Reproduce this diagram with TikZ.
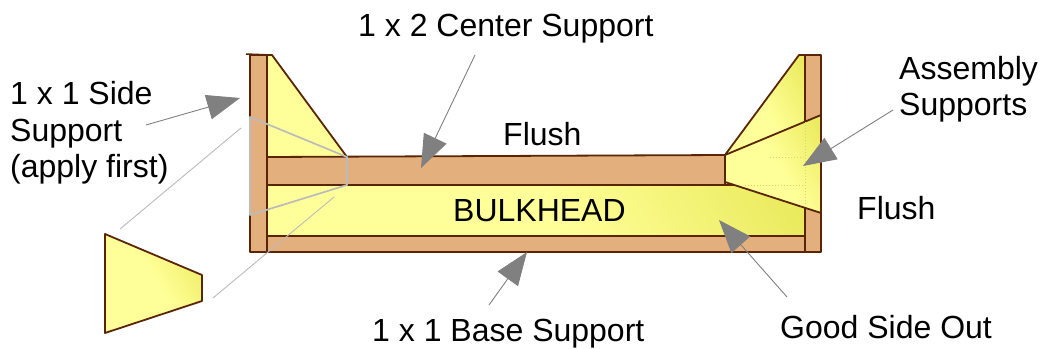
\documentclass[tikz,border=0pt]{standalone}
\usepackage{fontspec}
\setmainfont{Liberation Sans}
\usetikzlibrary{arrows.meta}
\definecolor{wood}{HTML}{E3B07D}
\definecolor{edge}{HTML}{5A2506}
\definecolor{paleY}{HTML}{FFFF99}
\definecolor{darkY}{HTML}{E3E34A}
\definecolor{pointer}{HTML}{808080}
\definecolor{guide}{HTML}{BBBBBB}
\definecolor{ghost}{HTML}{D8D860}
\pgfdeclarehorizontalshading{yellowfade}{100bp}{color(0bp)=(paleY); color(52bp)=(paleY); color(92bp)=(darkY); color(100bp)=(darkY)}
\tikzset{
  woodpart/.style={fill=wood,draw=edge,line width=1.8pt,line join=round},
  gusset/.style={fill=paleY,draw=edge,line width=1.8pt,line join=round},
  fadepart/.style={draw=edge,line width=1.8pt,line join=round,shading=yellowfade,shading angle=30},
  label/.style={font=\fontsize{32pt}{36.5pt}\selectfont,inner sep=0pt,align=left},
  pointerline/.style={draw=pointer,line width=0.9pt,-{Triangle[length=33pt,width=25pt,fill=pointer]}},
  guideline/.style={draw=guide,line width=0.9pt},
  ghostline/.style={draw=ghost,line width=1pt,dotted},
  outlinepart/.style={draw=guide,line width=1.7pt,line join=round}
}
\begin{document}
\begin{tikzpicture}[x=1pt,y=-1pt]
\useasboundingbox (0,0) rectangle (1040,348);
% bulkhead and right gusset
\path[fadepart] (267,185) -- (805,185) -- (805,236) -- (267,236) -- cycle;
\path[gusset] (267,55) -- (272,55) -- (347,157) -- (267,157) -- cycle;
\path[fadepart] (805,55) -- (799,55) -- (725,155) -- (725,182) -- (805,182) -- cycle;
% timber
\path[woodpart] (267,157) -- (725,155) -- (725,185) -- (267,185) -- cycle;
\path[woodpart] (267,236) -- (805,236) -- (805,252) -- (267,252) -- cycle;
\path[woodpart] (250,55) -- (267,55) -- (267,252) -- (250,252) -- cycle;
\path[woodpart] (805,55) -- (821,55) -- (821,252) -- (805,252) -- cycle;
\draw[edge,line width=1.5pt] (246,54) -- (272,55);
% assembly support on the right
\path[fadepart] (725,155) -- (821,115) -- (821,213) -- (725,182) -- cycle;
\coordinate (h1a) at (770,157); \coordinate (h1b) at (805,157);
\coordinate (h2a) at (745,185); \coordinate (h2b) at (805,185);
\coordinate (h3a) at (805,122); \coordinate (h3b) at (805,206);
\draw[ghostline] (h1a) -- (h1b);
\draw[ghostline] (h2a) -- (h2b);
\draw[ghostline] (h3a) -- (h3b);
% outline of side support
\path[outlinepart] (250,117) -- (347,157) -- (347,185) -- (250,215) -- cycle;
% loose side support
\path[fadepart] (105,234) -- (202,275) -- (202,301) -- (105,333) -- cycle;
% guides
\coordinate (g1a) at (120,229); \coordinate (g1b) at (241,128);
\coordinate (g2a) at (213,298); \coordinate (g2b) at (334,197);
\draw[guideline] (g1a) -- (g1b);
\draw[guideline] (g2a) -- (g2b);
% labels
\node[label,anchor=west] (center) at (358,29) {1 x 2 Center Support};
\node[label,anchor=west] (flushtop) at (503,134) {Flush};
\node[label,anchor=west] (side) at (10,133) {1 x 1 Side\\Support\\(apply first)};
\node[label,anchor=west] (assembly) at (899,89) {Assembly\\Supports};
\node[label,anchor=west] (flushright) at (857,208) {Flush};
\node[label,anchor=west] (bulkhead) at (453,211) {BULKHEAD};
\node[label,anchor=west] (base) at (372,333.5) {1 x 1 Base Support};
\node[label,anchor=west] (good) at (780,327) {Good Side Out};
% pointers
\coordinate (p1s) at (146,125); \coordinate (p1e) at (240,98);
\coordinate (p2s) at (475,55);  \coordinate (p2e) at (421,168);
\coordinate (p3s) at (893,110); \coordinate (p3e) at (803,166);
\coordinate (p4s) at (787,297); \coordinate (p4e) at (719,220);
\coordinate (p5s) at (489,305); \coordinate (p5e) at (527,252);
\draw[pointerline] (p1s) -- (p1e);
\draw[pointerline] (p2s) -- (p2e);
\draw[pointerline] (p3s) -- (p3e);
\draw[pointerline] (p4s) -- (p4e);
\draw[pointerline] (p5s) -- (p5e);
\end{tikzpicture}
\end{document}
